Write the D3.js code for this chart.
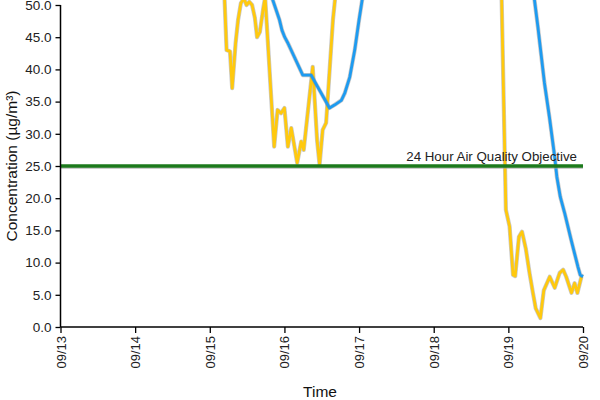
<!DOCTYPE html>
<html>
<head>
<meta charset="utf-8">
<script src="https://cdn.jsdelivr.net/npm/d3@7"></script>
<style>
  html, body { margin: 0; padding: 0; background: #fff; }
  svg { display: block; }
</style>
</head>
<body>
<script>
// ---- Data (hours since 09/13 00:00) ----
const startDate = new Date(2019, 8, 13, 0, 0);
const xTickLabels = ["09/13", "09/14", "09/15", "09/16", "09/17", "09/18", "09/19", "09/20"];
const yTickValues = [0, 5, 10, 15, 20, 25, 30, 35, 40, 45, 50];

const hourlyHours = [52, 53.4, 54.5, 55.2, 56.3, 57.1, 58.0, 59.0, 59.8, 60.7, 61.6, 62.5, 63.2, 64.1, 65.2, 65.8,
  68.7, 69.8, 70.9, 72.0, 73.1, 74.2, 76.1, 77.4, 78.2, 81.1, 82.5, 83.3, 84.3, 85.4, 87.6, 88.5,
  96, 120, 140, 141.8, 143.2, 144.4, 145.5, 146.2, 147.4, 148.4, 149.6, 150.8, 151.9, 152.8, 154.3,
  155.4, 157.3, 158.9, 160.5, 161.6, 162.6, 164.3, 165.3, 166.2, 167.5, 168.0];
const hourlyValues = [60, 43.0, 42.8, 37.1, 44.1, 47.7, 50.3, 51.0, 50.0, 50.5, 50.0, 48.0, 45.0, 45.8, 49.5, 51.2,
  28.0, 33.7, 33.2, 34.0, 28.0, 30.9, 25.5, 28.8, 27.5, 40.4, 29.0, 25.2, 30.6, 31.7, 47.7, 52,
  65, 70, 60, 52, 18.2, 15.6, 8.1, 7.9, 14.0, 14.8, 12.2, 8.4, 5.3, 2.9, 1.4,
  5.7, 7.8, 6.1, 8.4, 8.9, 7.8, 5.3, 6.8, 5.3, 7.8, 7.8];

const rollingHours = [66.0, 70.4, 71.2, 72.1, 73.1, 77.9, 80.6, 86.5, 88.2, 90.3, 91.4, 93.0, 94.6, 96.0, 97.0,
  110, 130, 150.5, 153.5, 155.6, 157.2, 158.9, 159.6, 160.7, 162.1, 164.2, 166.4, 167.1, 168.0];
const rollingValues = [54.0, 47.7, 46.1, 45.0, 44.1, 39.1, 39.1, 34.0, 34.5, 35.2, 36.3, 38.8, 43.0, 47.7, 50.8,
  70, 75, 58, 46.6, 37.9, 32.6, 26.4, 23.3, 20.2, 17.7, 13.5, 9.3, 8.1, 7.8];

const objectiveValue = 25;
const objectiveLabel = "24 Hour Air Quality Objective";

// ---- Chart ----
const W = 600, H = 400;
const svg = d3.select("body").append("svg").attr("width", W).attr("height", H);
const font = "Liberation Sans, Arial, sans-serif";

const toDate = h => new Date(startDate.getTime() + h * 3600e3);
const endDate = toDate(168);

const x = d3.scaleTime().domain([startDate, endDate]).range([60.5, 583]);
const y = d3.scaleLinear().domain([0, 50]).range([327, 5]);

svg.append("defs").append("clipPath").attr("id", "plot")
  .append("rect").attr("x", 60).attr("y", 0).attr("width", 530).attr("height", 327);

const g = svg.append("g").attr("clip-path", "url(#plot)");

const line = d3.line().x(d => x(d[0])).y(d => y(d[1]));
const hourly = hourlyHours.map((h, i) => [toDate(h), hourlyValues[i]]);
const rolling = rollingHours.map((h, i) => [toDate(h), rollingValues[i]]);

function drawSeries(data, color) {
  g.append("path").datum(data).attr("d", line)
    .attr("fill", "none").attr("stroke", "#888").attr("stroke-opacity", 0.45)
    .attr("stroke-width", 4.2).attr("stroke-linejoin", "round");
  g.append("path").datum(data).attr("d", line)
    .attr("fill", "none").attr("stroke", color)
    .attr("stroke-width", 2.8).attr("stroke-linejoin", "round");
}

// Objective line
svg.append("line")
  .attr("x1", x(startDate)).attr("x2", x(endDate))
  .attr("y1", y(objectiveValue) + 1).attr("y2", y(objectiveValue) + 1)
  .attr("stroke", "#999").attr("stroke-opacity", 0.5).attr("stroke-width", 4);
svg.append("line")
  .attr("x1", x(startDate)).attr("x2", x(endDate))
  .attr("y1", y(objectiveValue)).attr("y2", y(objectiveValue))
  .attr("stroke", "#1c7a1c").attr("stroke-width", 3.6);

drawSeries(hourly, "#ffc90e");
drawSeries(rolling, "#1e9bf0");

svg.append("text")
  .attr("x", 577).attr("y", y(objectiveValue) - 5.5)
  .attr("text-anchor", "end")
  .attr("font-family", font).attr("font-size", 13.3).attr("fill", "#222")
  .text(objectiveLabel);

// Axes
const yAxis = d3.axisLeft(y).tickValues(yTickValues).tickFormat(d3.format(".1f")).tickSize(5).tickPadding(4);
const yg = svg.append("g").attr("transform", "translate(60.5,0)").call(yAxis);
yg.select(".domain").attr("stroke", "#000").attr("stroke-width", 1.5).attr("d", "M0,5V327");
yg.selectAll(".tick line").attr("stroke", "#000").attr("stroke-width", 1.3);
yg.selectAll(".tick text").attr("font-family", font).attr("font-size", 13.5).attr("fill", "#222");

const xTicks = d3.range(8).map(i => toDate(i * 24));
const xAxis = d3.axisBottom(x).tickValues(xTicks).tickFormat((d, i) => xTickLabels[i]).tickSize(6);
const xg = svg.append("g").attr("transform", "translate(0,327)").call(xAxis);
xg.select(".domain").attr("stroke", "#000").attr("stroke-width", 1.5).attr("d", "M60.5,0H583");
xg.selectAll(".tick line").attr("stroke", "#000").attr("stroke-width", 1.3);
xg.selectAll(".tick text")
  .attr("font-family", font).attr("font-size", 13).attr("fill", "#222")
  .attr("transform", "rotate(-90)")
  .attr("text-anchor", "end").attr("dy", "0.35em").attr("x", -9).attr("y", 0);

// Titles
svg.append("text")
  .attr("transform", "translate(17,166) rotate(-90)")
  .attr("text-anchor", "middle")
  .attr("font-family", font).attr("font-size", 15.5).attr("fill", "#111")
  .text("Concentration (µg/m³)");

svg.append("text")
  .attr("x", 320).attr("y", 397)
  .attr("text-anchor", "middle")
  .attr("font-family", font).attr("font-size", 15.5).attr("fill", "#111")
  .text("Time");
</script>
</body>
</html>
